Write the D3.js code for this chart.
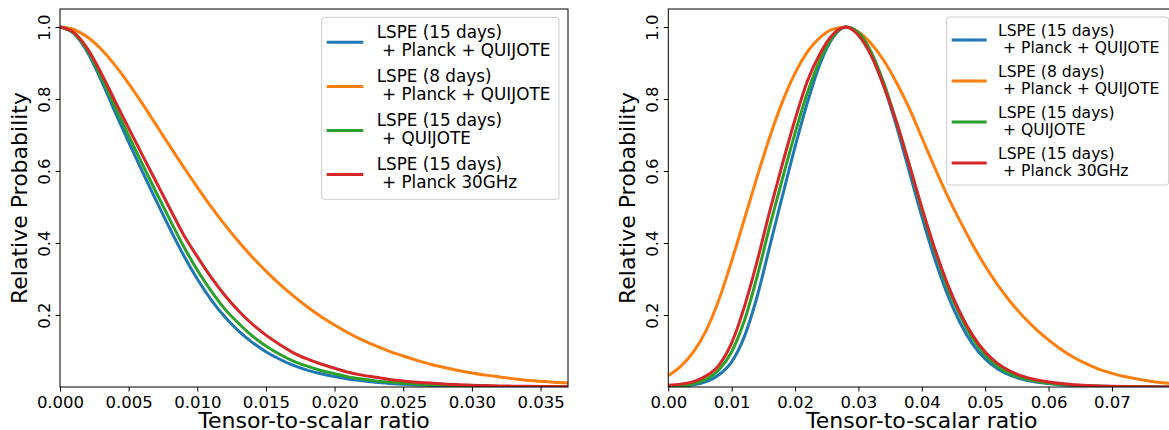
<!DOCTYPE html>
<html><head><meta charset="utf-8">
<script src="https://cdn.jsdelivr.net/npm/d3@7"></script>
<style>html,body{margin:0;padding:0;background:#fff;overflow:hidden}svg{display:block;font-family:"DejaVu Sans",sans-serif}</style>
</head><body><svg id="chart" width="1169" height="430"></svg>
<script>
// ---------- data ----------
const seriesLabels = [
  ["LSPE (15 days)", " + Planck + QUIJOTE"],
  ["LSPE (8 days)", " + Planck + QUIJOTE"],
  ["LSPE (15 days)", " + QUIJOTE"],
  ["LSPE (15 days)", " + Planck 30GHz"]
];
const seriesColors = ["#1f77b4", "#ff7f0e", "#2ca02c", "#d62728"];

// left panel: tensor-to-scalar ratio grid and relative probabilities
const rLeft = [0.000,0.001,0.002,0.003,0.004,0.005,0.006,0.007,0.008,0.009,0.010,0.011,0.012,0.013,0.014,0.015,0.016,0.017,0.018,0.019,0.020,0.021,0.022,0.023,0.024,0.025,0.026,0.027,0.028,0.029,0.030,0.031,0.032,0.033,0.034,0.035,0.036,0.037];
const leftBlue   = [1.000,0.982,0.930,0.852,0.765,0.680,0.598,0.518,0.440,0.366,0.300,0.243,0.195,0.156,0.124,0.098,0.077,0.060,0.047,0.037,0.029,0.022,0.017,0.013,0.010,0.0075,0.0057,0.0043,0.0032,0.0024,0.0018,0.0013,0.0010,0.0007,0.0005,0.0004,0.0003,0.0002];
const leftOrange = [1.000,0.993,0.972,0.938,0.894,0.843,0.787,0.728,0.669,0.611,0.555,0.501,0.451,0.404,0.361,0.322,0.286,0.253,0.223,0.196,0.172,0.150,0.131,0.114,0.099,0.086,0.074,0.063,0.054,0.046,0.039,0.033,0.028,0.023,0.019,0.016,0.013,0.011];
const leftGreen  = [1.000,0.983,0.935,0.861,0.779,0.698,0.619,0.541,0.465,0.391,0.325,0.267,0.217,0.177,0.142,0.114,0.091,0.072,0.058,0.046,0.037,0.028,0.022,0.017,0.0136,0.0104,0.0080,0.0062,0.0047,0.0036,0.0027,0.0020,0.0016,0.0011,0.0008,0.0007,0.0005,0.0004];
const leftRed    = [1.000,0.985,0.940,0.872,0.795,0.719,0.644,0.570,0.496,0.423,0.362,0.305,0.255,0.212,0.175,0.144,0.118,0.095,0.078,0.064,0.052,0.041,0.033,0.027,0.021,0.017,0.013,0.011,0.0083,0.0065,0.0051,0.0039,0.0031,0.0023,0.0018,0.0015,0.0011,0.0008];

// right panel
const rRight = [0.000,0.002,0.004,0.006,0.008,0.010,0.012,0.014,0.016,0.018,0.020,0.022,0.024,0.026,0.028,0.030,0.032,0.034,0.036,0.038,0.040,0.042,0.044,0.046,0.048,0.050,0.052,0.054,0.056,0.058,0.060,0.062,0.064,0.066,0.068,0.070,0.072,0.074,0.076,0.078,0.080];
const rightBlue   = [0.0005,0.002,0.006,0.015,0.034,0.070,0.140,0.250,0.390,0.530,0.667,0.793,0.900,0.971,0.9998,0.983,0.925,0.836,0.725,0.600,0.474,0.358,0.259,0.180,0.120,0.078,0.050,0.032,0.021,0.014,0.0095,0.0065,0.0044,0.0029,0.0019,0.0012,0.0008,0.0005,0.0003,0.0002,0.0001];
const rightOrange = [0.032,0.058,0.098,0.158,0.243,0.350,0.466,0.583,0.694,0.792,0.872,0.932,0.972,0.994,0.9995,0.986,0.954,0.907,0.846,0.775,0.693,0.611,0.533,0.462,0.396,0.336,0.283,0.236,0.196,0.161,0.131,0.104,0.082,0.064,0.049,0.038,0.029,0.022,0.016,0.012,0.009];
const rightGreen  = [0.0015,0.0035,0.009,0.022,0.048,0.098,0.184,0.306,0.446,0.578,0.705,0.820,0.911,0.974,0.9999,0.985,0.931,0.845,0.736,0.619,0.493,0.381,0.279,0.200,0.135,0.089,0.057,0.0365,0.024,0.016,0.0106,0.0073,0.0049,0.0032,0.0021,0.0014,0.0009,0.0006,0.0004,0.0002,0.0001];
const rightRed    = [0.005,0.008,0.015,0.031,0.061,0.1225,0.2225,0.348,0.488,0.619,0.743,0.852,0.928,0.980,1.000,0.977,0.921,0.836,0.736,0.619,0.499,0.387,0.289,0.208,0.144,0.097,0.065,0.0437,0.0293,0.020,0.014,0.0095,0.0065,0.0044,0.0029,0.0019,0.0012,0.0008,0.0005,0.0003,0.0002];

const leftXTicks  = [0.000,0.005,0.010,0.015,0.020,0.025,0.030,0.035];
const rightXTicks = [0.00,0.01,0.02,0.03,0.04,0.05,0.06,0.07];
const yTicks = [0.2,0.4,0.6,0.8,1.0];
const xLabel = "Tensor-to-scalar ratio";
const yLabel = "Relative Probability";

// ---------- drawing ----------
const svg = d3.select("#chart");

const panels = [
  { id:"L", left:60, right:568, domain:[0,0.037], ticks:leftXTicks, fmt:d3.format(".3f"),
    r:rLeft, series:[leftBlue,leftOrange,leftGreen,leftRed],
    legend:{x:321.7, y:17.3, w:237.3, h:182, hx0:326.7, hx1:363.3, hy:42.3, tx:376.7, b1:37.7, b2:56, step:44.1, fs:16.8} },
  { id:"R", left:668.3, right:1175.3, domain:[0,0.08], ticks:rightXTicks, fmt:d3.format(".2f"),
    r:rRight, series:[rightBlue,rightOrange,rightGreen,rightRed],
    legend:{x:946.7, y:17, w:222, h:168, hx0:951.7, hx1:986.7, hy:40, tx:998, b1:36, b2:53.3, step:41, fs:15.6} }
];
const plotTop = 9, plotBottom = 387;

panels.forEach(p => {
  const x = d3.scaleLinear().domain(p.domain).range([p.left, p.right]);
  const y = d3.scaleLinear().domain([0, 1.05]).range([plotBottom, plotTop]);
  const g = svg.append("g");

  g.append("clipPath").attr("id", "clip" + p.id)
    .append("rect").attr("x", p.left).attr("y", plotTop).attr("width", p.right - p.left).attr("height", plotBottom - plotTop);

  const line = d3.line().x((d, i) => x(p.r[i])).y(d => y(d)).curve(d3.curveMonotoneX);
  p.series.forEach((s, k) => {
    g.append("path").datum(s).attr("d", line)
      .attr("fill", "none").attr("stroke", seriesColors[k]).attr("stroke-width", 3)
      .attr("stroke-linejoin", "round").attr("stroke-linecap", "butt")
      .attr("clip-path", "url(#clip" + p.id + ")");
  });

  // x axis
  const xa = g.append("g").attr("transform", `translate(0,${plotBottom})`)
    .call(d3.axisBottom(x).tickValues(p.ticks).tickFormat(p.fmt).tickSize(4.5).tickPadding(5));
  xa.select(".domain").remove();
  xa.selectAll("line").attr("stroke", "#000").attr("stroke-width", 1);
  xa.selectAll("text").attr("fill", "#000").style("font-size", "16.5px").style("font-family", '"DejaVu Sans"');

  // y axis
  const ya = g.append("g").attr("transform", `translate(${p.left},0)`)
    .call(d3.axisLeft(y).tickValues(yTicks).tickFormat(d3.format(".1f")).tickSize(4.5));
  ya.select(".domain").remove();
  ya.selectAll("line").attr("stroke", "#000").attr("stroke-width", 1);
  ya.selectAll("text").attr("x", null).attr("dy", null)
    .attr("text-anchor", "middle").attr("transform", "translate(-10.5,0) rotate(-90)")
    .attr("fill", "#000").style("font-size", "16.5px").style("font-family", '"DejaVu Sans"');

  // frame
  g.append("rect").attr("x", p.left).attr("y", plotTop).attr("width", p.right - p.left).attr("height", plotBottom - plotTop)
    .attr("fill", "none").attr("stroke", "#000").attr("stroke-width", 1);

  // axis labels
  g.append("text").attr("x", (p.left + p.right) / 2).attr("y", 428).attr("text-anchor", "middle")
    .style("font-size", "22px").attr("fill", "#000").text(xLabel);
  g.append("text").attr("transform", `translate(${p.left - 33.3},${(plotTop + plotBottom) / 2}) rotate(-90)`)
    .attr("text-anchor", "middle").style("font-size", "22px").attr("fill", "#000").text(yLabel);

  // legend
  const L = p.legend;
  const lg = g.append("g");
  lg.append("rect").attr("x", L.x).attr("y", L.y).attr("width", L.w).attr("height", L.h)
    .attr("rx", 3).attr("fill", "#fff").attr("fill-opacity", 0.8).attr("stroke", "#cccccc").attr("stroke-width", 1);
  seriesLabels.forEach((lab, k) => {
    lg.append("line").attr("x1", L.hx0).attr("x2", L.hx1)
      .attr("y1", L.hy + k * L.step).attr("y2", L.hy + k * L.step)
      .attr("stroke", seriesColors[k]).attr("stroke-width", 3);
    lg.append("text").attr("x", L.tx).attr("y", L.b1 + k * L.step)
      .style("font-size", L.fs + "px").style("white-space", "pre").attr("fill", "#000").text(lab[0]);
    lg.append("text").attr("x", L.tx).attr("y", L.b2 + k * L.step)
      .style("font-size", L.fs + "px").style("white-space", "pre").attr("fill", "#000").text(lab[1]);
  });
});
</script>
</body></html>
